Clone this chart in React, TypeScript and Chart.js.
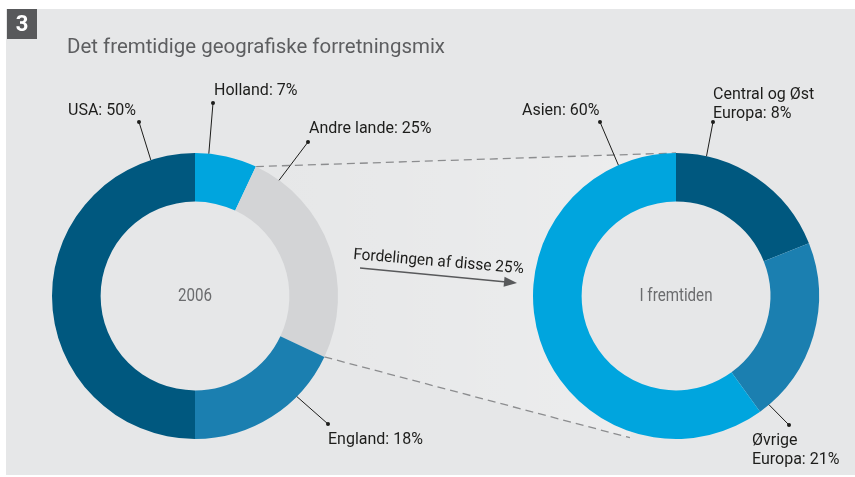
import { useEffect, useRef } from "react";
import { Chart, registerables } from "chart.js";

Chart.register(...registerables);

// ---- data ----
const titleText = "Det fremtidige geografiske forretningsmix";
const figureNumber = "3";

const leftCategories = ["Holland", "Andre lande", "England", "USA"];
const leftValues = [7, 25, 18, 50];
const leftLabels = [["Holland: 7%"], ["Andre lande: 25%"], ["England: 18%"], ["USA: 50%"]];
const leftCenter = "2006";

const rightCategories = ["Central og Øst Europa", "Øvrige Europa", "Asien"];
const rightValues = [19, 21, 60];
const rightLabels = [["Central og Øst", "Europa: 8%"], ["Øvrige", "Europa: 21%"], ["Asien: 60%"]];
const rightCenter = "I fremtiden";

const arrowText = "Fordelingen af disse 25%";

// ---- styles ----
const leftColors = ["#00a5de", "#d3d4d6", "#1b7fb0", "#00587f"];
const rightColors = ["#00587f", "#1b7fb0", "#00a5de"];
const FONT = "Roboto, 'Open Sans', sans-serif";
const TEXT = "#1d1d1b";

type LabelPos = { tx: number; ty: number; dx: number; dy: number; frac: number };
const leftLabelPos: LabelPos[] = [
  { tx: 214, ty: 95, dx: 213, dy: 103, frac: 0.22 },
  { tx: 309, ty: 133, dx: 308, dy: 142, frac: 0.12 },
  { tx: 328, ty: 444, dx: 328, dy: 424, frac: 0.3 },
  { tx: 68, ty: 115, dx: 139, dy: 122, frac: 0.9 },
];
const rightLabelPos: LabelPos[] = [
  { tx: 713, ty: 99, dx: 713, dy: 122, frac: 0.18 },
  { tx: 752, ty: 445, dx: 789, dy: 425, frac: 0.94 },
  { tx: 522, ty: 115, dx: 600, dy: 122, frac: 0.89 },
];

function arcPoint(el: any, frac: number, rExtra = 0) {
  const a = el.startAngle + (el.endAngle - el.startAngle) * frac;
  const r = el.outerRadius + rExtra;
  return { x: el.x + Math.cos(a) * r, y: el.y + Math.sin(a) * r };
}

function fitText(ctx: CanvasRenderingContext2D, text: string, x: number, y: number, w?: number, align: "left" | "center" = "left") {
  const m = ctx.measureText(text).width;
  const s = w ? w / m : 1;
  ctx.save();
  ctx.translate(x, y);
  ctx.scale(s, 1);
  ctx.textAlign = align;
  ctx.fillText(text, 0, 0);
  ctx.restore();
}

function drawLabels(chart: any, labels: string[][], pos: LabelPos[]) {
  const ctx: CanvasRenderingContext2D = chart.ctx;
  const meta = chart.getDatasetMeta(0);
  ctx.save();
  labels.forEach((lines, i) => {
    const el = meta.data[i];
    const p = pos[i];
    const s = arcPoint(el, p.frac);
    ctx.strokeStyle = TEXT;
    ctx.lineWidth = 1;
    ctx.beginPath();
    ctx.moveTo(s.x, s.y);
    ctx.lineTo(p.dx, p.dy);
    ctx.stroke();
    ctx.fillStyle = TEXT;
    ctx.beginPath();
    ctx.arc(p.dx, p.dy, 2, 0, Math.PI * 2);
    ctx.fill();
    ctx.font = `16px ${FONT}`;
    ctx.textBaseline = "alphabetic";
    lines.forEach((ln, k) => fitText(ctx, ln, p.tx, p.ty + k * 19));
  });
  ctx.restore();
}

function drawCenter(chart: any, text: string, w: number) {
  const ctx: CanvasRenderingContext2D = chart.ctx;
  const el = chart.getDatasetMeta(0).data[0];
  ctx.save();
  ctx.fillStyle = "#6b6c6e";
  ctx.font = `19px ${FONT}`;
  ctx.textBaseline = "middle";
  fitText(ctx, text, el.x, el.y, w, "center");
  ctx.restore();
}

export default function App() {
  const leftRef = useRef<HTMLCanvasElement>(null);
  const rightRef = useRef<HTMLCanvasElement>(null);

  useEffect(() => {
    document.body.style.margin = "0";
    const baseOpts = (padding: any) => ({
      responsive: false,
      animation: false as const,
      events: [],
      cutout: "66%",
      layout: { padding },
      plugins: { legend: { display: false }, tooltip: { enabled: false } },
    });

    const right = new Chart(rightRef.current!, {
      type: "doughnut",
      data: {
        labels: rightCategories,
        datasets: [{ data: rightValues, backgroundColor: rightColors, borderWidth: 0, hoverOffset: 0, offset: 0 }],
      },
      options: baseOpts({ left: 533, top: 153, right: 36, bottom: 38 }) as any,
      plugins: [
        {
          id: "rightDeco",
          afterDatasetsDraw(chart: any) {
            drawLabels(chart, rightLabels, rightLabelPos);
            drawCenter(chart, rightCenter, 73);
          },
        },
      ],
    });

    const left = new Chart(leftRef.current!, {
      type: "doughnut",
      data: {
        labels: leftCategories,
        datasets: [{ data: leftValues, backgroundColor: leftColors, borderWidth: 0, hoverOffset: 0, offset: 0 }],
      },
      options: baseOpts({ left: 52, top: 153, right: 517, bottom: 38 }) as any,
      plugins: [
        {
          id: "leftBg",
          beforeDatasetsDraw(chart: any) {
            const ctx: CanvasRenderingContext2D = chart.ctx;
            const W = chart.width;
            const H = chart.height;
            ctx.save();
            ctx.fillStyle = "#ffffff";
            ctx.fillRect(0, 0, W, H);
            ctx.fillStyle = "#e6e7e8";
            ctx.fillRect(6, 9, W - 6, 466);
            // figure number box
            ctx.fillStyle = "#58595b";
            ctx.fillRect(7, 9, 30, 30);
            ctx.fillStyle = "#ffffff";
            ctx.font = `bold 22px ${FONT}`;
            ctx.textAlign = "center";
            ctx.textBaseline = "middle";
            ctx.fillText(figureNumber, 22, 25);
            // title
            ctx.fillStyle = "#5d5e60";
            ctx.font = `21px ${FONT}`;
            ctx.textBaseline = "alphabetic";
            fitText(ctx, titleText, 67, 53, 378);

            // fan between doughnuts
            const lm = chart.getDatasetMeta(0).data;
            const rm = right.getDatasetMeta(0).data;
            const a1 = arcPoint(lm[0], 1); // end of Holland
            const a2 = arcPoint(lm[1], 1); // end of Andre lande
            const b1 = arcPoint(rm[2], 1); // end of Asien (top)
            const b2 = arcPoint(rm[2], 0.25, 6);
            const rc = rm[0];
            ctx.save();
            ctx.beginPath();
            ctx.rect(0, 0, W, H);
            ctx.arc(rc.x, rc.y, rc.outerRadius - 0.5, 0, Math.PI * 2);
            ctx.clip("evenodd");
            const g = ctx.createLinearGradient(a1.x, 0, b1.x, 0);
            g.addColorStop(0, "rgba(255,255,255,0)");
            g.addColorStop(1, "rgba(255,255,255,0.28)");
            ctx.fillStyle = g;
            ctx.beginPath();
            ctx.moveTo(a1.x, a1.y);
            ctx.lineTo(b1.x, b1.y);
            ctx.lineTo(b2.x, b2.y);
            ctx.lineTo(a2.x, a2.y);
            ctx.closePath();
            ctx.fill();
            ctx.strokeStyle = "#8c8d8f";
            ctx.lineWidth = 1.3;
            ctx.setLineDash([8, 5]);
            ctx.beginPath();
            ctx.moveTo(a1.x, a1.y);
            ctx.lineTo(b1.x, b1.y);
            ctx.moveTo(a2.x, a2.y);
            ctx.lineTo(b2.x, b2.y);
            ctx.stroke();
            ctx.setLineDash([]);
            ctx.restore();

            // arrow
            const x0 = 360, y0 = 268, x1 = 517, y1 = 283;
            const ang = Math.atan2(y1 - y0, x1 - x0);
            ctx.strokeStyle = "#58595b";
            ctx.fillStyle = "#58595b";
            ctx.lineWidth = 1.5;
            ctx.beginPath();
            ctx.moveTo(x0, y0);
            ctx.lineTo(x1 - Math.cos(ang) * 8, y1 - Math.sin(ang) * 8);
            ctx.stroke();
            ctx.save();
            ctx.translate(x1, y1);
            ctx.rotate(ang);
            ctx.beginPath();
            ctx.moveTo(0, 0);
            ctx.lineTo(-13, -5);
            ctx.lineTo(-13, 5);
            ctx.closePath();
            ctx.fill();
            ctx.restore();
            ctx.save();
            ctx.translate(353, 259);
            ctx.rotate((4.8 * Math.PI) / 180);
            ctx.fillStyle = TEXT;
            ctx.font = `16px ${FONT}`;
            fitText(ctx, arrowText, 0, 0, 171);
            ctx.restore();
            ctx.restore();
          },
          afterDatasetsDraw(chart: any) {
            drawLabels(chart, leftLabels, leftLabelPos);
            drawCenter(chart, leftCenter, 34);
          },
        },
      ],
    });

    return () => {
      left.destroy();
      right.destroy();
    };
  }, []);

  return (
    <div style={{ position: "relative", width: 855, height: 477 }}>
      <canvas ref={leftRef} width={855} height={477} style={{ position: "absolute", left: 0, top: 0 }} />
      <canvas ref={rightRef} width={855} height={477} style={{ position: "absolute", left: 0, top: 0 }} />
    </div>
  );
}
